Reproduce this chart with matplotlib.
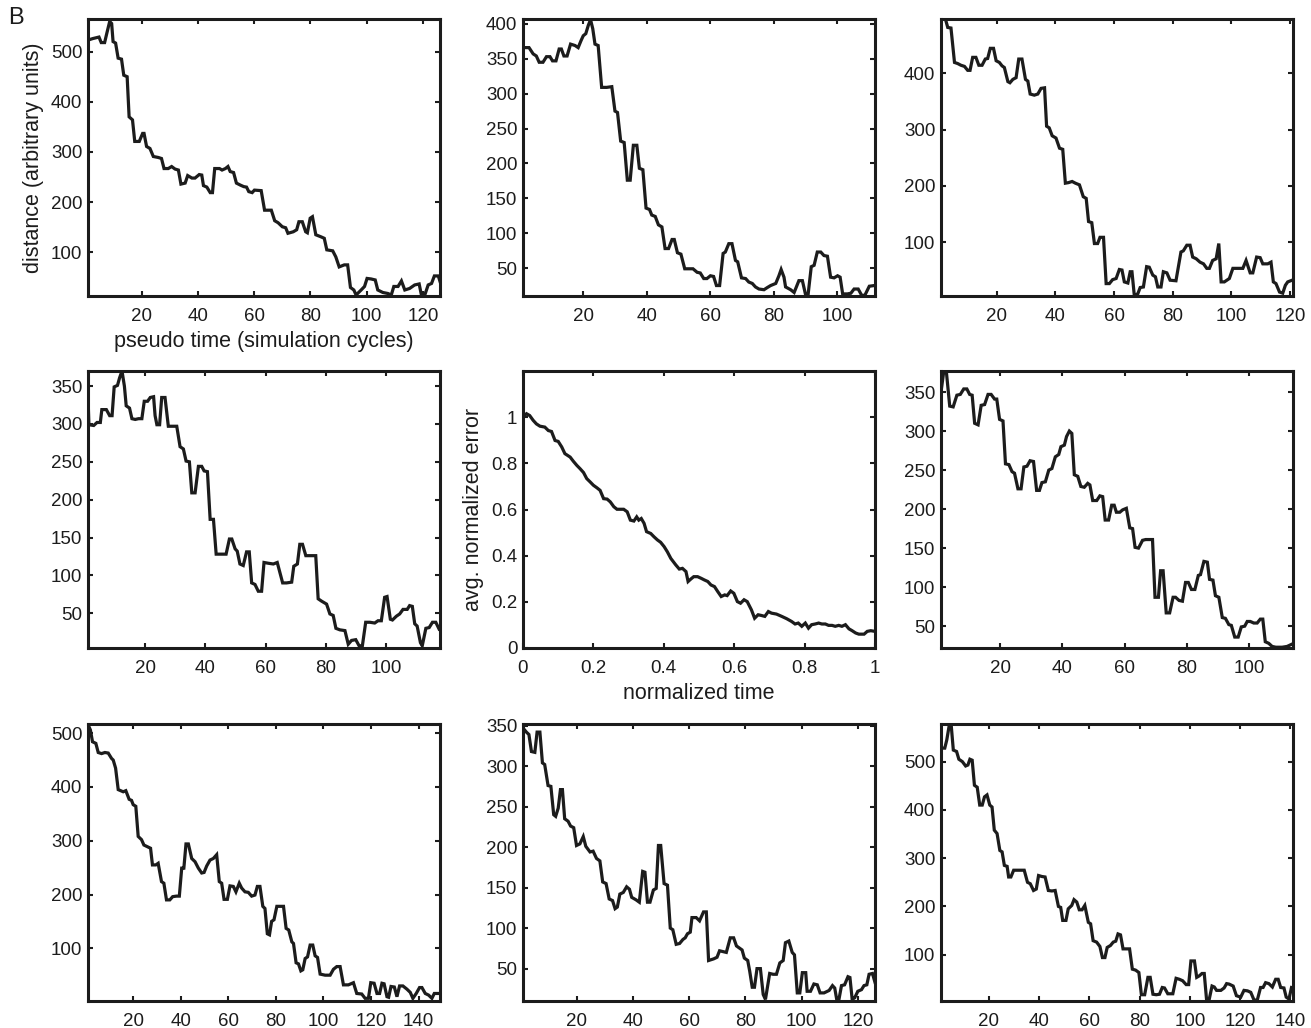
import matplotlib
matplotlib.use("Agg")
import matplotlib.pyplot as plt
from matplotlib.ticker import FormatStrFormatter

plt.rcParams['font.family'] = ['Liberation Sans', 'DejaVu Sans']

# ---------------- data ----------------
p1_x = [1, 2.7, 4.9, 5.7, 6.9, 7.7, 8.7, 9.4, 9.9, 10.8, 11.7, 12.9, 13.7, 14.9, 15.6, 16.8, 17.6, 19.2, 20.4, 20.9,
        21.8, 23, 24.2, 26, 27.1, 28, 29.5, 30.7, 31.9, 33.1, 34, 35.5, 36.4, 37.9, 39, 40.5, 41.4, 42, 43.2, 44.4,
        45.2, 46, 47.7, 48.6, 49.8, 50.7, 51.5, 52.7, 53.7, 55.1, 56.3, 57.3, 58.1, 59.3, 60.1, 62.5, 63.7, 66.1,
        67.3, 68.5, 70, 71.2, 72, 73.9, 75.1, 75.9, 77.1, 78.3, 78.9, 79.9, 80.7, 81.9, 83.7, 84.9, 85.8, 87.9, 89,
        90.2, 92, 93.2, 94.2, 95.4, 96.2, 98, 99.2, 100.1, 101.5, 103, 103.9, 105.7, 107.5, 108.7, 109.6, 111.1,
        112.3, 113.5, 115.2, 117, 118.6, 119.4, 120.6, 121.8, 123, 124, 125.4, 126]
p1_y = [523, 526, 529, 518, 518, 537, 560, 556, 520, 517, 487, 485, 453, 450, 370, 364, 321, 321, 337, 337,
        311, 307, 291, 289, 287, 267, 267, 271, 266, 264, 236, 238, 253, 248, 248, 255, 254, 233, 230, 219,
        219, 267, 267, 264, 267, 271, 261, 259, 238, 234, 231, 230, 221, 219, 224, 223, 184, 184,
        163, 159, 151, 149, 138, 141, 145, 161, 161, 141, 139, 168, 171, 135, 131, 128, 105, 103, 91,
        71, 75, 75, 30, 25, 15, 25, 32, 48, 47, 45, 25, 20, 18, 15, 32, 32,
        43, 25, 28, 35, 37, 15, 15, 35, 38, 53, 53, 42]

p2_x = [1, 2.9, 4.2, 5.2, 6.1, 7.3, 8.4, 9.5, 10.3, 11.4, 12.4, 13.1, 13.9, 14.9, 16, 17.4, 18.4, 19.3, 20, 20.8,
        21.6, 22.3, 23, 23.7, 24.7, 25.8, 27.4, 29, 30, 30.8, 31.8, 32.9, 33.9, 34.8, 35.8, 36.9, 37.7, 38.8, 39.8,
        40.9, 41.6, 42.7, 43.7, 44.8, 45.8, 46.9, 48, 48.7, 49.7, 50.8, 52, 53.2, 54.6, 55.9, 56.9, 58, 59, 60.1,
        61.1, 62, 63, 64.1, 64.8, 65.9, 66.9, 68, 68.7, 69.9, 71.2, 72.2, 73.3, 74.3, 75.4, 77, 78, 79.1, 80.7,
        81.7, 82.4, 83.3, 83.8, 85.4, 86.5, 88, 89.1, 90.1, 90.9, 91.9, 92.8, 93.8, 94.9, 95.9, 97, 98, 99.1,
        100.2, 101, 101.8, 103.3, 104.4, 105.4, 106.7, 107.8, 108.8, 110.2, 111.8]
p2_y = [366, 366, 357, 354, 345, 345, 353, 353, 347, 347, 364, 364, 354, 354, 371, 369, 366, 376, 383, 386,
        398, 406, 393, 371, 369, 309, 309, 310, 275, 273, 232, 230, 176, 176, 226, 226, 193, 191, 136,
        134, 126, 124, 112, 109, 78, 78, 91, 91, 72, 70, 49, 49, 49, 44, 43, 35, 35, 39,
        38, 25, 25, 71, 73, 85, 85, 61, 59, 36, 35, 30, 28, 23, 20, 19, 22, 25, 28,
        39, 48, 37, 23, 19, 15, 32, 32, 12, 12, 52, 54, 73, 73, 68, 67, 37, 36,
        39, 37, 13, 13, 14, 20, 20, 11, 11, 24, 25]

p3_x = [1, 2.5, 3.3, 4.4, 5.6, 6.7, 7.8, 9, 10.1, 10.9, 11.8, 12.9, 13.9, 15, 16.1, 16.9, 17.8, 18.9, 19.8, 20.9,
        21.8, 22.6, 23.8, 24.5, 25.5, 26.6, 27.5, 28.6, 29.8, 30.6, 31.4, 32.8, 34, 35.1, 36.3, 37, 37.9, 38.9,
        40.2, 41.4, 42.5, 43.4, 44.5, 45.7, 46.8, 48.2, 49.5, 50.5, 51.3, 52.4, 53.3, 54.4, 55.2, 56.4, 57.3,
        58.4, 59.5, 60.7, 61.8, 62.7, 63.5, 64.7, 65.5, 66.1, 66.9, 68.1, 68.9, 70, 71.1, 72, 73.2, 74.1, 74.9,
        76, 76.8, 78, 79.1, 81.1, 82.8, 83.6, 84.8, 85.9, 86.8, 88, 89.3, 90.5, 91.6, 92.5, 93.6, 94.8, 95.7,
        96.5, 97.6, 99.3, 100.5, 102.2, 103.9, 105, 106.4, 107.3, 108.6, 109.8, 110.7, 112.4, 113.5, 114.3,
        115.2, 116.4, 117.5, 118.4, 119.2, 120.7]
p3_y = [496, 496, 481, 480, 419, 417, 414, 412, 405, 405, 428, 428, 414, 414, 425, 426, 444, 444, 422, 419,
        413, 410, 385, 383, 389, 392, 425, 425, 389, 386, 363, 361, 363, 373, 374, 306, 303, 289,
        285, 267, 265, 205, 206, 208, 205, 202, 181, 178, 137, 135, 98, 98, 109, 109, 27,
        27, 34, 36, 52, 51, 30, 28, 48, 48, 6, 9, 20, 21, 57, 56, 42, 39, 21,
        21, 48, 46, 33, 32, 83, 85, 95, 95, 74, 71, 65, 62, 54, 54, 68, 71, 98,
        30, 30, 36, 54, 54, 54, 68, 46, 46, 74, 73, 62, 62, 65, 30,
        27, 12, 10, 24, 30, 33]

p4_x = [1, 1.3, 2.9, 4, 5.1, 5.6, 7.1, 8.2, 9, 9.7, 10.8, 11.5, 12.3, 13.1, 13.7, 14.8, 15.6, 16.7, 17.8, 18.9,
        19.7, 20.8, 21.7, 22.8, 23.3, 23.9, 24.8, 25.5, 26.6, 27.7, 29.4, 30.5, 31.6, 32.7, 33.6, 34.7, 35.5,
        36.6, 37.7, 38.8, 39.6, 40.7, 41.6, 42.7, 43.6, 45, 46.9, 48, 48.8, 49.9, 50.6, 51.5, 52.6, 53.7, 54.6,
        55.4, 56.5, 57.6, 58.7, 59.5, 60.9, 62.6, 63.9, 65.7, 67, 68.7, 69.4, 70.6, 71.4, 72.3, 73.4, 75.3, 76.7,
        77.5, 78.6, 80.3, 81.4, 82.5, 83.4, 84.7, 86.4, 87.5, 88.6, 90, 91.1, 92.2, 93.3, 94.7, 96.3, 97.4,
        98.5, 99.6, 100.4, 101.5, 102.2, 103.5, 104.6, 105.7, 107.1, 107.9, 108.8, 109.6, 110.4, 111.5, 112.1,
        113.3, 114.4, 115.5, 116.6, 117.7]
p4_y = [337, 299, 298, 302, 302, 319, 319, 311, 311, 349, 351, 361, 370, 350, 324, 321, 307, 306, 307, 307,
        330, 330, 335, 336, 311, 299, 299, 335, 335, 297, 297, 297, 270, 267, 251, 250, 209,
        209, 244, 244, 238, 237, 174, 174, 128, 128, 128, 148, 148, 135, 132, 115, 113, 131, 131,
        90, 88, 79, 79, 117, 116, 115, 117, 90, 90, 91, 112, 115, 141, 141, 126, 126, 126,
        69, 66, 62, 49, 47, 30, 28, 27, 9, 14, 15, 7, 7, 38, 38, 37, 40,
        40, 71, 72, 42, 41, 46, 49, 55, 55, 60, 59, 36, 33, 11, 7,
        30, 31, 38, 38, 29]

p5_x = [0, 0.01, 0.019, 0.029, 0.038, 0.048, 0.062, 0.072, 0.081, 0.091, 0.1, 0.11, 0.119, 0.134, 0.143, 0.153,
        0.162, 0.172, 0.181, 0.191, 0.2, 0.21, 0.219, 0.229, 0.239, 0.248, 0.258, 0.267, 0.277, 0.286, 0.296,
        0.305, 0.315, 0.323, 0.329, 0.336, 0.344, 0.351, 0.363, 0.372, 0.382, 0.391, 0.401, 0.41, 0.42, 0.427,
        0.434, 0.444, 0.453, 0.463, 0.469, 0.477, 0.485, 0.496, 0.506, 0.515, 0.525, 0.534, 0.544, 0.553, 0.563,
        0.573, 0.58, 0.59, 0.599, 0.609, 0.618, 0.628, 0.637, 0.649, 0.658, 0.668, 0.677, 0.687, 0.697, 0.706,
        0.72, 0.735, 0.749, 0.763, 0.773, 0.782, 0.792, 0.802, 0.811, 0.82, 0.83, 0.84, 0.849, 0.859, 0.868,
        0.878, 0.887, 0.897, 0.906, 0.916, 0.926, 0.935, 0.945, 0.954, 0.969, 0.978, 0.988, 1.0]
p5_y = [1.0, 1.015, 1.007, 0.986, 0.971, 0.961, 0.957, 0.942, 0.938, 0.899, 0.895, 0.871, 0.842, 0.827, 0.809,
        0.791, 0.777, 0.76, 0.734, 0.719, 0.705, 0.694, 0.683, 0.647, 0.645, 0.633, 0.612, 0.601, 0.601, 0.601,
        0.59, 0.554, 0.55, 0.568, 0.554, 0.561, 0.54, 0.504, 0.496, 0.482, 0.468, 0.458, 0.439, 0.417, 0.388,
        0.374, 0.36, 0.342, 0.345, 0.331, 0.288, 0.299, 0.309, 0.309, 0.302, 0.295, 0.288, 0.273, 0.266, 0.245,
        0.223, 0.23, 0.227, 0.247, 0.237, 0.201, 0.194, 0.209, 0.201, 0.165, 0.129, 0.144, 0.141, 0.137, 0.158,
        0.151, 0.147, 0.137, 0.127, 0.115, 0.104, 0.108, 0.094, 0.108, 0.086, 0.101, 0.104, 0.108, 0.104, 0.104,
        0.098, 0.098, 0.094, 0.098, 0.094, 0.101, 0.083, 0.075, 0.065, 0.06, 0.06, 0.072, 0.075, 0.072]

p6_x = [1.1, 1.9, 2.7, 3.8, 4.9, 6.1, 7.2, 8.3, 9.3, 10.2, 11, 11.8, 12.9, 13.9, 15, 16.1, 17.1, 18.2, 18.9, 19.8,
        20.9, 21.7, 22.8, 23.8, 24.6, 25.7, 26.7, 27.6, 28.6, 29.6, 30.7, 31.7, 32.6, 33.4, 34.5, 35.6, 36.6,
        37.7, 38.8, 39.5, 40.6, 41.3, 42.2, 43, 43.8, 44.9, 45.9, 47, 48.1, 48.8, 49.7, 51, 52, 52.9, 53.7, 54.8,
        55.8, 56.6, 57.3, 58.4, 59.3, 60.5, 61.6, 62.5, 63.3, 64.4, 65.7, 66.7, 67.8, 68.9, 69.7, 70.8, 71.5,
        72.3, 73.3, 74.4, 75.5, 76.3, 77.4, 78.5, 79.5, 80.4, 81.4, 82.5, 83.6, 84.3, 85.4, 86.5, 87.2, 88.3,
        89.1, 90.2, 91.3, 92.3, 93.4, 94.2, 95.3, 96.4, 97.4, 98.5, 99.3, 100.3, 101.4, 102.5, 103.5, 104.3,
        105.1, 106.2, 107.3, 108.5, 110.5, 112.1, 113.7]
p6_y = [353, 377, 377, 332, 331, 346, 347, 354, 354, 347, 346, 310, 308, 333, 334, 347, 347, 341, 341, 315,
        313, 258, 257, 248, 246, 226, 226, 254, 255, 262, 261, 224, 224, 234, 235, 250, 252,
        267, 270, 280, 282, 293, 300, 297, 244, 242, 229, 228, 233, 231, 211, 211, 217, 216, 186, 186,
        205, 205, 196, 196, 199, 201, 176, 175, 151, 150, 160, 161, 161, 161, 87, 87, 121,
        121, 67, 67, 87, 87, 83, 82, 106, 106, 97, 97, 115, 116, 133, 132, 110, 109,
        89, 87, 61, 60, 52, 51, 36, 36, 49, 50, 56, 56, 54, 54, 59, 59,
        30, 28, 24, 23, 23, 24, 27]

p7_x = [1, 2, 2.9, 4.3, 5.3, 6.7, 8.1, 9.5, 10.9, 11.6, 12.6, 13.7, 15.8, 16.9, 18.3, 19.3, 20, 21.1, 22.1, 23.5,
        24.5, 25.9, 27.3, 28.1, 29.5, 30.5, 31.9, 32.9, 34, 35.4, 36.6, 38.2, 39.4, 40.4, 41.3, 42.2, 43.2, 44.6,
        46, 47.4, 48.8, 49.8, 50.9, 52.3, 53.7, 55.1, 56.2, 57.2, 58.2, 59.6, 60.7, 62.1, 63.2, 64.6, 65.6, 67,
        68.4, 69.8, 71.2, 72.2, 73.3, 74.5, 75.4, 76.4, 77.3, 78.2, 79.2, 80.4, 83.2, 84.3, 85.4, 86.7, 87.4,
        88.5, 89.5, 90.5, 91.3, 92.3, 93.3, 94.4, 95.5, 96.5, 97.5, 98.6, 100.7, 102.8, 104.2, 105.6, 107,
        108.4, 110.5, 112.6, 114, 116.1, 117.5, 118.9, 119.9, 121.3, 122.5, 123.6, 124.6, 125.5, 126.7, 127.4,
        128.4, 129.8, 130.9, 132, 133.4, 135.1, 136.5, 137.6, 139, 140.4, 141.4, 142.8, 144.2, 145.6, 146.6, 148.4]
p7_y = [516, 506, 484, 481, 464, 462, 464, 463, 453, 450, 435, 395, 391, 393, 377, 375, 367, 364, 308, 302,
        292, 289, 286, 255, 255, 258, 224, 221, 190, 190, 196, 197, 197, 249, 249, 294, 294, 267,
        261, 249, 240, 241, 253, 264, 267, 274, 224, 221, 191, 191, 216, 215, 205, 221, 212, 205,
        204, 197, 199, 215, 215, 178, 174, 127, 125, 150, 153, 178, 178, 137, 134, 112, 109,
        73, 71, 58, 60, 81, 84, 106, 106, 86, 83, 52, 50, 50, 61, 66, 66,
        32, 32, 36, 16, 15, 7, 7, 36, 35, 16, 16, 35, 34, 10, 9,
        29, 28, 10, 30, 30, 24, 18, 7, 16, 27, 27, 16, 13, 7, 16, 16]

p8_x = [1, 2.2, 3.1, 4, 5.2, 6, 7, 7.9, 8.7, 9.9, 10.9, 11.9, 12.6, 13.5, 14.3, 15, 15.8, 17, 17.9, 19, 20, 21.2,
        22.4, 23.3, 24.8, 25.9, 27.1, 28.3, 29.3, 30.5, 31.6, 32.8, 33.7, 34.5, 35.4, 36.6, 37.8, 38.8, 39.6,
        41.1, 42.3, 43.5, 44.3, 45.2, 46.1, 47.3, 48.3, 49.1, 49.9, 51.1, 52.3, 53.3, 54.2, 55.4, 56.6, 57.8,
        58.6, 59.4, 60.4, 61, 62.5, 63.7, 65.1, 66.1, 66.9, 68.7, 69.9, 70.8, 72, 73.2, 74.6, 75.8, 76.8, 78,
        78.8, 79.6, 80.8, 81.5, 82.4, 83.2, 84.1, 85.3, 86.3, 87.1, 88.6, 89.8, 91, 92.2, 93.4, 94.2, 95.4,
        96.6, 97.4, 98.4, 99.3, 100.2, 101.4, 101.9, 103.1, 104.3, 105.5, 106.5, 107.9, 109.7, 110.9, 111.7,
        112.4, 113.2, 114.1, 115.2, 116.4, 117.1, 117.9, 118.8, 119.9, 121.2, 122.1, 123.1, 123.9, 125.1, 126]
p8_y = [347, 342, 339, 318, 317, 342, 342, 304, 302, 276, 275, 240, 238, 248, 271, 271, 235, 232, 226, 224, 202,
        204, 213, 201, 194, 195, 186, 183, 157, 155, 136, 134, 124, 126, 142, 144, 151, 148, 138,
        135, 132, 170, 169, 132, 132, 147, 149, 202, 202, 155, 153, 100, 98, 80, 81, 86,
        88, 93, 95, 113, 113, 109, 120, 120, 60, 62, 64, 72, 71, 70, 88, 88, 78, 75,
        73, 63, 60, 47, 27, 27, 50, 50, 18, 12, 44, 43, 43, 57, 60, 82, 84,
        70, 67, 20, 20, 45, 45, 22, 22, 31, 30, 20, 20, 23, 29, 26,
        12, 12, 29, 30, 40, 39, 12, 14, 22, 24, 29, 30, 43, 44, 33]

p9_x = [1, 2.5, 3.3, 4.2, 5.1, 5.9, 7.2, 8.1, 9.5, 10.8, 11.7, 12.5, 13.4, 14.3, 15.4, 16.4, 17.4, 18.3, 19.3, 20.4,
        21.3, 22.2, 23.3, 24.4, 25.3, 26.2, 27.3, 27.9, 28.8, 29.9, 31.2, 32.5, 34.1, 35.4, 36.5, 37.8, 38.9,
        39.8, 41.1, 42.4, 43.7, 45.1, 46.4, 47.7, 48.6, 49.4, 50.7, 51.6, 53, 53.9, 55, 56, 57.1, 58.2, 59.6,
        60.5, 61.5, 62.9, 64.2, 65.2, 66.2, 67.1, 68.4, 69.5, 70.5, 71.4, 72.4, 73.4, 74.7, 76, 77.1, 78.4,
        79.7, 80.7, 82, 83.3, 84.2, 85.3, 86.6, 87.9, 89, 89.9, 91.2, 93.2, 94.5, 95.8, 97.1, 98.5, 99.5,
        100.4, 101.8, 102.7, 103.7, 104.8, 105.7, 106.6, 107.7, 108.8, 109.7, 110.6, 112.3, 113.6, 114.6,
        115.6, 117.2, 118.5, 120.2, 121.5, 122.9, 124.2, 125.5, 126.8, 128.1, 129.1, 130.1, 131.4, 132.8,
        134.1, 135.1, 136.1, 137.4, 138.3, 139.4, 140.4]
p9_y = [528, 528, 545, 573, 573, 524, 521, 505, 500, 491, 493, 505, 503, 451, 447, 410, 410, 427, 431, 410,
        406, 358, 351, 316, 313, 285, 283, 261, 261, 275, 275, 275, 275, 250, 247, 233, 236,
        264, 262, 261, 233, 232, 233, 200, 198, 171, 171, 195, 202, 214, 209, 193, 193, 202, 167,
        164, 129, 126, 117, 94, 94, 115, 119, 126, 128, 143, 141, 112, 112, 112, 70, 68,
        63, 17, 17, 53, 53, 18, 17, 18, 32, 31, 19, 19, 51, 49, 46, 38, 38,
        87, 87, 53, 56, 61, 61, 8, 8, 35, 33, 26, 26, 31, 40,
        39, 35, 15, 12, 26, 25, 22, 6, 6, 32, 32, 42, 40, 33,
        49, 49, 32, 31, 12, 8, 32]

panels = [
    (p1_x, p1_y, (1, 126), (13, 565), [20, 40, 60, 80, 100, 120], [100, 200, 300, 400, 500]),
    (p2_x, p2_y, (1, 112), (10, 407), [20, 40, 60, 80, 100], [50, 100, 150, 200, 250, 300, 350, 400]),
    (p3_x, p3_y, (1, 121), (5, 496), [20, 40, 60, 80, 100, 120], [100, 200, 300, 400]),
    (p4_x, p4_y, (1, 118), (4, 370), [20, 40, 60, 80, 100], [50, 100, 150, 200, 250, 300, 350]),
    (p5_x, p5_y, (0, 1), (0, 1.2), [0, 0.2, 0.4, 0.6, 0.8, 1], [0, 0.2, 0.4, 0.6, 0.8, 1]),
    (p6_x, p6_y, (1, 114), (22, 377), [20, 40, 60, 80, 100], [50, 100, 150, 200, 250, 300, 350]),
    (p7_x, p7_y, (1, 149), (2, 517), [20, 40, 60, 80, 100, 120, 140], [100, 200, 300, 400, 500]),
    (p8_x, p8_y, (1, 126), (10, 352), [20, 40, 60, 80, 100, 120], [50, 100, 150, 200, 250, 300, 350]),
    (p9_x, p9_y, (1, 141), (4, 578), [20, 40, 60, 80, 100, 120, 140], [100, 200, 300, 400, 500]),
]

W, H = 1311, 1028
fig = plt.figure(figsize=(W / 100, H / 100), dpi=100)

lefts = [88, 523, 941]
tops = [19, 371, 724]
aw, ah = 352, 277
ink = '#1c1c1c'

for i, (x, y, xl, yl, xt, yt) in enumerate(panels):
    r, c = divmod(i, 3)
    ax = fig.add_axes([lefts[c] / W, 1 - (tops[r] + ah) / H, aw / W, ah / H])
    ax.plot(x, y, color=ink, lw=2.3, solid_joinstyle='miter')
    ax.set_xlim(*xl)
    ax.set_ylim(*yl)
    ax.set_xticks(xt)
    ax.set_yticks(yt)
    ax.xaxis.set_major_formatter(FormatStrFormatter('%g'))
    ax.yaxis.set_major_formatter(FormatStrFormatter('%g'))
    ax.tick_params(direction='in', top=True, right=True, length=3.5, width=1.5,
                   labelsize=13.5, colors=ink)
    ax.tick_params(axis='x', pad=8.5)
    ax.tick_params(axis='y', pad=4)
    for s in ax.spines.values():
        s.set_linewidth(2.2)
        s.set_color(ink)

axs = fig.axes
axs[0].set_ylabel('distance (arbitrary units)', fontsize=15.5, color=ink, labelpad=5)
axs[0].set_xlabel('pseudo time (simulation cycles)', fontsize=15.5, color=ink, labelpad=4.5)
axs[4].set_ylabel('avg. normalized error', fontsize=15.5, color=ink, labelpad=5)
axs[4].set_xlabel('normalized time', fontsize=15.5, color=ink, labelpad=4.5)

fig.text(8 / W, 1 - 7 / H, 'B', fontsize=17, color=ink, ha='left', va='top')

fig.savefig('out.png', dpi=100)
